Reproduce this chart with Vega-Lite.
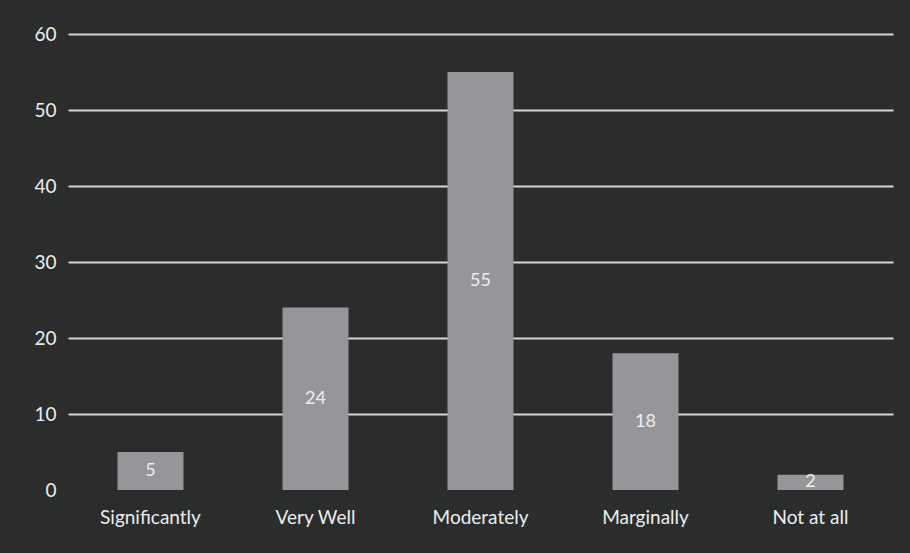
{
  "$schema": "https://vega.github.io/schema/vega-lite/v6.json",
  "autosize": {"type": "none"},
  "width": 825,
  "height": 456,
  "padding": {"left": 68, "top": 34, "right": 17, "bottom": 63},
  "background": "#2b2d2d",
  "config": {
    "view": {"stroke": null},
    "font": "Lato"
  },
  "data": {
    "values": [
      {"category": "Significantly", "value": 5},
      {"category": "Very Well", "value": 24},
      {"category": "Moderately", "value": 55},
      {"category": "Marginally", "value": 18},
      {"category": "Not at all", "value": 2}
    ]
  },
  "encoding": {
    "x": {
      "field": "category",
      "type": "nominal",
      "sort": null,
      "scale": {"paddingInner": 0.6, "paddingOuter": 0.3},
      "axis": {
        "title": null,
        "labelAngle": 0,
        "labelColor": "#ececec",
        "labelFontSize": 19,
        "labelPadding": 18,
        "domain": false,
        "ticks": false
      }
    }
  },
  "layer": [
    {
      "mark": {"type": "bar", "color": "#96969a"},
      "encoding": {
        "y": {
          "field": "value",
          "type": "quantitative",
          "scale": {"domain": [0, 60]},
          "axis": {
            "title": null,
            "values": [0, 10, 20, 30, 40, 50, 60],
            "labelColor": "#ececec",
            "labelFontSize": 19,
            "labelPadding": 12,
            "domain": false,
            "ticks": false,
            "gridColor": {"condition": {"test": "datum.value === 0", "value": "transparent"}, "value": "#d6d6d6"},
            "gridWidth": 2
          }
        }
      }
    },
    {
      "mark": {"type": "text", "color": "#eeeeee", "fontSize": 18, "baseline": "middle"},
      "encoding": {
        "y": {"field": "value", "type": "quantitative", "scale": {"domain": [0, 120]}, "axis": null},
        "text": {"field": "value", "type": "quantitative"}
      }
    }
  ],
  "resolve": {"scale": {"y": "independent"}}
}
